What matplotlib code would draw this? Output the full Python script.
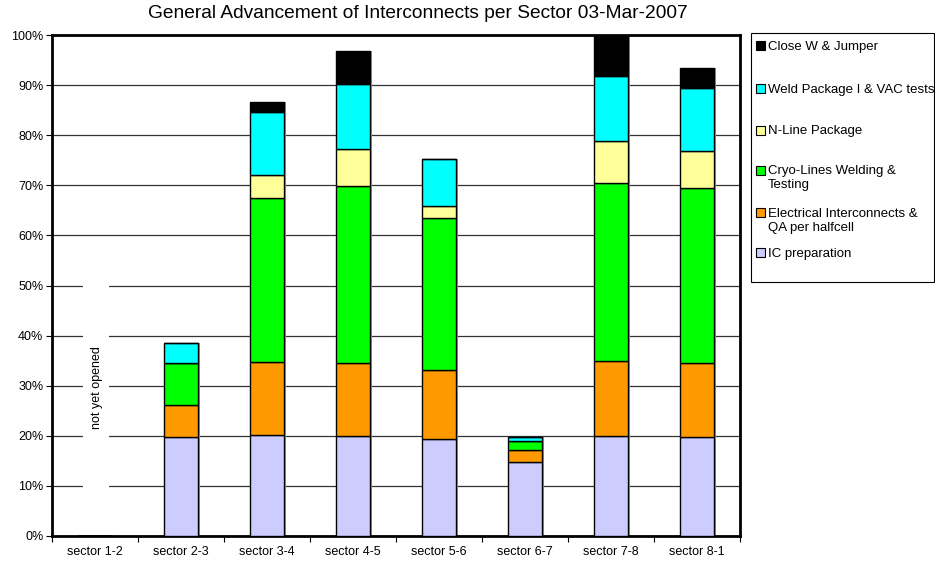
import numpy as np
import matplotlib.pyplot as plt
from matplotlib.patches import Rectangle

plt.rcParams['font.family'] = ['Liberation Sans', 'DejaVu Sans']

# data (percent per stage, stacked)
sectors = ["sector 1-2", "sector 2-3", "sector 3-4", "sector 4-5",
           "sector 5-6", "sector 6-7", "sector 7-8", "sector 8-1"]
ic_prep = [0, 19.8, 20.1, 19.9, 19.4, 14.7, 20.0, 19.8]
elec = [0, 6.4, 14.6, 14.6, 13.7, 2.4, 14.9, 14.7]
cryo = [0, 8.3, 32.8, 35.4, 30.4, 1.9, 35.6, 34.9]
nline = [0, 0, 4.6, 7.3, 2.4, 0, 8.3, 7.4]
weld = [0, 4.1, 12.6, 13.0, 9.3, 0.7, 13.1, 12.6]
close_w = [0, 0, 1.9, 6.7, 0, 0, 8.1, 4.1]

series = [ic_prep, elec, cryo, nline, weld, close_w]
labels = ["IC preparation", "Electrical Interconnects &\nQA per halfcell",
          "Cryo-Lines Welding &\nTesting", "N-Line Package",
          "Weld Package I & VAC tests", "Close W & Jumper"]
colors = ["#CCCCFF", "#FF9900", "#00FF00", "#FFFF99", "#00FFFF", "#000000"]

W, H = 935, 561
fig = plt.figure(figsize=(W / 100, H / 100), dpi=100)
ax = fig.add_axes([51.7 / W, 1 - 536 / H, (740 - 51.7) / W, (536 - 35) / H])

x = np.arange(len(sectors))
bottom = np.zeros(len(sectors))
for vals, col in zip(series, colors):
    v = np.array(vals, dtype=float)
    # grey shadow on the right like the original
    ax.bar(x + 0.025, v, width=0.4, bottom=bottom, color="#9a9a9a",
           edgecolor="none", zorder=2)
    ax.bar(x, v, width=0.4, bottom=bottom, color=col, edgecolor="black",
           linewidth=1.0, zorder=3)
    bottom += v

ax.set_xlim(-0.5, len(sectors) - 0.5)
ax.set_ylim(0, 100)
ax.set_yticks(np.arange(0, 101, 10))
ax.set_yticklabels([f"{t}%" for t in range(0, 101, 10)], fontsize=9)
ax.set_xticks(np.arange(-0.5, len(sectors), 1.0))
ax.set_xticklabels([])
ax.set_xticks(x, minor=True)
ax.set_xticklabels(sectors, minor=True, fontsize=9)
ax.tick_params(axis="x", which="minor", length=0, pad=7)
ax.tick_params(axis="x", which="major", length=4, direction="out")
ax.tick_params(axis="y", length=4, direction="out", pad=2)
ax.yaxis.grid(True, color="#333333", linewidth=0.9, zorder=0)
ax.set_axisbelow(True)
for s in ax.spines.values():
    s.set_linewidth(2.0)

# white patch behind the empty sector note
ax.add_patch(Rectangle((-0.136, 5), 0.302, 47, facecolor="white",
                       edgecolor="none", zorder=1))
ax.text(0.027, 29.7, "not yet opened", rotation=90, fontsize=9, ha="center",
        va="center", zorder=4)

fig.text(418 / W, 1 - 14 / H,
         "General Advancement of Interconnects per Sector 03-Mar-2007",
         ha="center", va="center", fontsize=13.8)

# legend drawn by hand to follow the original spacing
fig.patches.append(Rectangle((751 / W, 1 - 282 / H), 183 / W, 249 / H,
                             transform=fig.transFigure, facecolor="white",
                             edgecolor="black", linewidth=0.8))
leg_y = [252.7, 212.7, 170, 130, 88.3, 45.7]
for lab, col, yy in zip(labels, colors, leg_y):
    fig.patches.append(Rectangle((756 / W, 1 - (yy + 4.5) / H), 9 / W, 9 / H,
                                 transform=fig.transFigure, facecolor=col,
                                 edgecolor="black", linewidth=0.8))
    fig.text(768 / W, 1 - (yy - 4.5) / H, lab, ha="left", va="top",
             fontsize=9.5, linespacing=1.15)

fig.savefig("out.png", dpi=100)
